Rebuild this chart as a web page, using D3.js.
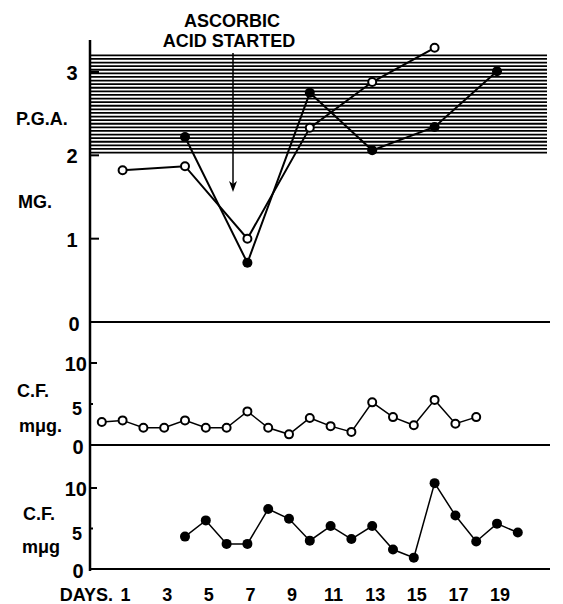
<!DOCTYPE html>
<html lang="en">
<head>
  <meta charset="UTF-8">
  <title>P.G.A. and C.F. by day</title>
  <script src="https://d3js.org/d3.v7.min.js"></script>
  <style>
    body { margin: 0; background: #fff; }
    text { font-family: "Liberation Sans", Arial, sans-serif; font-weight: bold; fill: #000; }
    .lbl { font-size: 18px; }
    .tick { font-size: 20px; }
  </style>
</head>
<body>
  <svg id="chart" width="563" height="604"></svg>

  <script>
    // top panel: P.G.A. mg
    const pgaOpenDays = [1, 4, 7, 10, 13, 16];
    const pgaOpenVals = [1.82, 1.87, 1.0, 2.33, 2.88, 3.29];
    const pgaFilledDays = [4, 7, 10, 13, 16, 19];
    const pgaFilledVals = [2.22, 0.71, 2.75, 2.06, 2.34, 3.01];
    const normalBand = [2.0, 3.2];

    // middle panel: C.F. (open)
    const cfOpenDays = d3.range(0, 19);
    const cfOpenVals = [2.8, 3.0, 2.1, 2.1, 3.0, 2.1, 2.1, 4.1, 2.1, 1.3, 3.3, 2.3, 1.6, 5.2, 3.4, 2.4, 5.5, 2.6, 3.4];

    // bottom panel: C.F. (filled)
    const cfFilledDays = d3.range(4, 21);
    const cfFilledVals = [4.0, 6.0, 3.1, 3.1, 7.4, 6.2, 3.5, 5.3, 3.7, 5.3, 2.4, 1.4, 10.6, 6.6, 3.4, 5.6, 4.5];

    const dayTicks = [1, 3, 5, 7, 9, 11, 13, 15, 17, 19];

    const svg = d3.select("#chart");

    const x = d3.scaleLinear().domain([1, 19]).range([122.6, 497]);
    const xLeft = 90, xRight = 550;

    const yTop = d3.scaleLinear().domain([0, 3]).range([322, 72]);
    const yMid = d3.scaleLinear().domain([0, 10]).range([445, 363]);
    const yBot = d3.scaleLinear().domain([0, 10]).range([569, 488]);

    // hatched normal range
    const bandTop = yTop(normalBand[1]), bandBot = yTop(normalBand[0]);
    svg.append("g").selectAll("line")
      .data(d3.range(bandTop, bandBot, 3.6))
      .enter().append("line")
      .attr("x1", xLeft).attr("x2", 547)
      .attr("y1", d => d).attr("y2", d => d)
      .attr("stroke", "#000").attr("stroke-width", 1.8);

    // main vertical axis + baselines
    svg.append("line").attr("x1", xLeft).attr("x2", xLeft).attr("y1", 40).attr("y2", 571)
      .attr("stroke", "#000").attr("stroke-width", 2.5);
    [yTop(0), yMid(0), yBot(0)].forEach(yy => {
      svg.append("line").attr("x1", xLeft).attr("x2", xRight).attr("y1", yy).attr("y2", yy)
        .attr("stroke", "#000").attr("stroke-width", 2);
    });

    // small tick marks
    [1, 2, 3].forEach(v => svg.append("line").attr("x1", xLeft).attr("x2", xLeft + 9)
      .attr("y1", yTop(v)).attr("y2", yTop(v)).attr("stroke", "#000").attr("stroke-width", 2));
    [yMid, yBot].forEach(s => {
      svg.append("line").attr("x1", xLeft).attr("x2", xLeft + 7)
        .attr("y1", s(10)).attr("y2", s(10)).attr("stroke", "#000").attr("stroke-width", 2);
      svg.append("line").attr("x1", xLeft).attr("x2", xLeft + 3)
        .attr("y1", s(5)).attr("y2", s(5)).attr("stroke", "#000").attr("stroke-width", 2);
    });

    // tick labels
    [1, 2, 3].forEach(v => svg.append("text").attr("class", "tick")
      .attr("x", 72).attr("y", yTop(v) + 8).attr("text-anchor", "middle").text(v));
    svg.append("text").attr("class", "tick").attr("x", 74).attr("y", yTop(0) + 9)
      .attr("text-anchor", "middle").text("0");
    [yMid, yBot].forEach(s => {
      svg.append("text").attr("class", "tick").attr("x", 87).attr("y", s(10) + 8)
        .attr("text-anchor", "end").text("10");
      svg.append("text").attr("class", "tick").attr("x", 77).attr("y", s(5) + 11)
        .attr("text-anchor", "middle").style("font-size", "18px").text("5");
      svg.append("text").attr("class", "tick").attr("x", 78).attr("y", s(0) + 9)
        .attr("text-anchor", "middle").text("0");
    });

    // axis titles
    svg.append("text").attr("class", "lbl").attr("x", 16).attr("y", 125).text("P.G.A.");
    svg.append("text").attr("class", "lbl").attr("x", 18).attr("y", 208).text("MG.");
    svg.append("text").attr("class", "lbl").attr("x", 17).attr("y", 397).text("C.F.");
    svg.append("text").attr("class", "lbl").attr("x", 19).attr("y", 432).text("mμg.");
    svg.append("text").attr("class", "lbl").attr("x", 23).attr("y", 520).text("C.F.");
    svg.append("text").attr("class", "lbl").attr("x", 22).attr("y", 553).text("mμg");

    // day labels
    svg.append("text").attr("class", "lbl").attr("x", 113).attr("y", 601)
      .attr("text-anchor", "end").text("DAYS.");
    svg.append("g").selectAll("text").data(dayTicks).enter().append("text")
      .attr("class", "lbl").attr("x", d => x(d) + 3).attr("y", 601)
      .attr("text-anchor", "middle").text(d => d);

    // annotation
    svg.append("text").attr("class", "lbl").attr("x", 232).attr("y", 27)
      .attr("text-anchor", "middle").text("ASCORBIC");
    svg.append("text").attr("class", "lbl").attr("x", 229).attr("y", 47)
      .attr("text-anchor", "middle").text("ACID STARTED");
    const ax = 233;
    svg.append("line").attr("x1", ax).attr("x2", ax).attr("y1", 53).attr("y2", 188)
      .attr("stroke", "#000").attr("stroke-width", 1.5);
    svg.append("path").attr("d", `M${ax - 4},181 L${ax},192 L${ax + 4},181 L${ax},184 Z`)
      .attr("fill", "#000");

    // series drawing
    function series(days, vals, ys, filled, lw, r) {
      const pts = days.map((d, i) => [x(d), ys(vals[i])]);
      svg.append("path").attr("d", d3.line()(pts))
        .attr("fill", "none").attr("stroke", "#000").attr("stroke-width", lw);
      svg.append("g").selectAll("circle").data(pts).enter().append("circle")
        .attr("cx", p => p[0]).attr("cy", p => p[1])
        .attr("r", r)
        .attr("fill", filled ? "#000" : "#fff")
        .attr("stroke", "#000").attr("stroke-width", filled ? 0 : 2);
    }

    series(pgaOpenDays, pgaOpenVals, yTop, false, 2, 4);
    series(pgaFilledDays, pgaFilledVals, yTop, true, 2, 5);
    series(cfOpenDays, cfOpenVals, yMid, false, 1.5, 4);
    series(cfFilledDays, cfFilledVals, yBot, true, 1.5, 5);
  </script>
</body>
</html>
